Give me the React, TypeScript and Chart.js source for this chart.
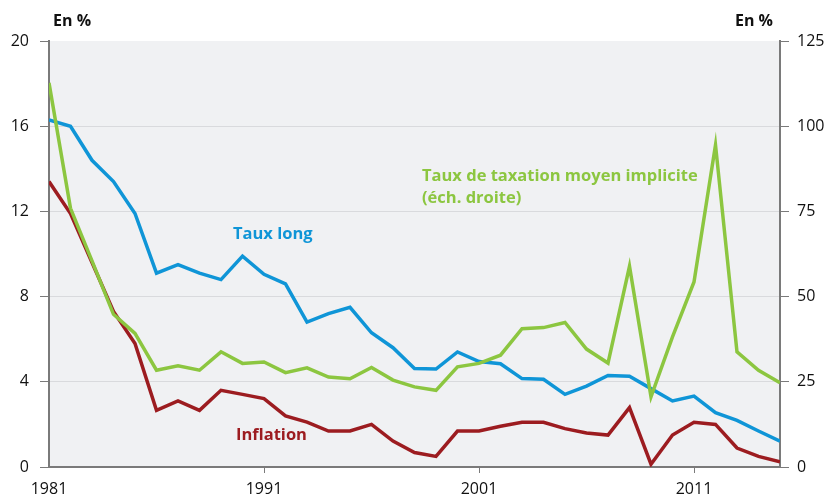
import React, { useEffect, useRef } from "react";
import { Chart, registerables } from "chart.js";

Chart.register(...registerables);

const years = [
  1981, 1982, 1983, 1984, 1985, 1986, 1987, 1988, 1989, 1990,
  1991, 1992, 1993, 1994, 1995, 1996, 1997, 1998, 1999, 2000,
  2001, 2002, 2003, 2004, 2005, 2006, 2007, 2008, 2009, 2010,
  2011, 2012, 2013, 2014, 2015,
];

const tauxLong = [
  16.3, 16.0, 14.4, 13.4, 11.9, 9.1, 9.5, 9.1, 8.8, 9.9,
  9.05, 8.6, 6.8, 7.2, 7.5, 6.3, 5.6, 4.62, 4.6, 5.4,
  4.95, 4.85, 4.15, 4.12, 3.41, 3.8, 4.3, 4.26, 3.68, 3.1,
  3.33, 2.55, 2.19, 1.69, 1.21,
];

const inflation = [
  13.4, 11.9, 9.6, 7.3, 5.8, 2.66, 3.1, 2.66, 3.6, 3.41,
  3.21, 2.4, 2.11, 1.69, 1.69, 2.0, 1.22, 0.68, 0.5, 1.69,
  1.69, 1.91, 2.1, 2.1, 1.8, 1.6, 1.5, 2.79, 0.13, 1.5,
  2.1, 2.0, 0.89, 0.5, 0.24,
];

const tauxTaxation = [
  112.7, 75.9, 60.5, 44.8, 39.2, 28.4, 29.7, 28.4, 33.8, 30.4,
  30.8, 27.7, 29.1, 26.4, 25.9, 29.2, 25.5, 23.5, 22.5, 29.4,
  30.4, 32.8, 40.6, 40.9, 42.4, 34.6, 30.5, 58.9, 20.6, 38.2,
  54.3, 94.5, 33.8, 28.4, 24.7,
];

const xTickYears = [1981, 1991, 2001, 2011];
const leftTicks = [0, 4, 8, 12, 16, 20];
const rightTicks = [0, 25, 50, 75, 100, 125];

const labelTauxLong = "Taux long";
const labelInflation = "Inflation";
const labelTaxation1 = "Taux de taxation moyen implicite";
const labelTaxation2 = "(éch. droite)";
const unitLabel = "En %";

const BLUE = "#0f95d7";
const RED = "#9c1c20";
const GREEN = "#8cc640";
const AXIS = "#7a7a7a";
const GRID = "#d9dadd";
const BG = "#f0f1f3";
const FONT = "'Open Sans', 'DejaVu Sans', sans-serif";

const toPoints = (vals: number[]) => vals.map((v, i) => ({ x: years[i], y: v }));

export default function App() {
  const ref = useRef<HTMLCanvasElement | null>(null);

  useEffect(() => {
    document.body.style.margin = "0";
    const canvas = ref.current;
    if (!canvas) return;

    const bgPlugin = {
      id: "bgPlugin",
      beforeDraw(chart: any) {
        const { ctx, chartArea } = chart;
        ctx.save();
        ctx.fillStyle = BG;
        ctx.fillRect(chartArea.left, chartArea.top, chartArea.right - chartArea.left, chartArea.bottom - chartArea.top);
        ctx.restore();
      },
      afterDraw(chart: any) {
        const { ctx, chartArea } = chart;
        ctx.save();
        ctx.textBaseline = "middle";
        ctx.font = `bold 16px ${FONT}`;
        ctx.fillStyle = "#111";
        ctx.textAlign = "left";
        ctx.fillText(unitLabel, chartArea.left + 4, 21);
        ctx.textAlign = "right";
        ctx.fillText(unitLabel, chartArea.right - 7, 21);

        ctx.font = `bold 16.5px ${FONT}`;
        ctx.textAlign = "left";
        ctx.fillStyle = BLUE;
        ctx.fillText(labelTauxLong, 233, 234);
        ctx.fillStyle = RED;
        ctx.fillText(labelInflation, 236, 435);
        ctx.fillStyle = GREEN;
        ctx.fillText(labelTaxation1, 422, 176);
        ctx.fillText(labelTaxation2, 422, 198);
        ctx.restore();
      },
    };

    const chart = new Chart(canvas, {
      type: "line",
      data: {
        datasets: [
          {
            label: labelTaxation1,
            data: toPoints(tauxTaxation),
            yAxisID: "y1",
            borderColor: GREEN,
            borderWidth: 3.5,
            pointRadius: 0,
            tension: 0,
            order: 0,
          },
          {
            label: labelTauxLong,
            data: toPoints(tauxLong),
            yAxisID: "y",
            borderColor: BLUE,
            borderWidth: 3.5,
            pointRadius: 0,
            tension: 0,
            order: 1,
          },
          {
            label: labelInflation,
            data: toPoints(inflation),
            yAxisID: "y",
            borderColor: RED,
            borderWidth: 3.5,
            pointRadius: 0,
            tension: 0,
            order: 2,
          },
        ],
      },
      options: {
        responsive: false,
        animation: false,
        devicePixelRatio: 1,
        layout: { padding: { top: 41, left: 0, right: 0, bottom: 0 } },
        plugins: {
          legend: { display: false },
          tooltip: { enabled: false },
        },
        scales: {
          x: {
            type: "linear",
            min: years[0],
            max: years[years.length - 1],
            afterBuildTicks: (scale: any) => {
              scale.ticks = xTickYears.map((v) => ({ value: v }));
            },
            afterFit: (scale: any) => {
              scale.height = 29;
            },
            border: { display: true, color: AXIS, width: 2 },
            grid: {
              drawOnChartArea: false,
              drawTicks: true,
              tickLength: 6,
              color: (c: any) => (c.index === 0 ? "rgba(0,0,0,0)" : AXIS),
              lineWidth: 1,
            },
            ticks: {
              color: "#111",
              font: { family: FONT, size: 16 },
              padding: 7,
              maxRotation: 0,
              autoSkip: false,
              callback: (v: any) => String(v),
            },
          },
          y: {
            position: "left",
            min: 0,
            max: 20,
            afterBuildTicks: (scale: any) => {
              scale.ticks = leftTicks.map((v) => ({ value: v }));
            },
            afterFit: (scale: any) => {
              scale.width = 49;
            },
            border: { display: true, color: AXIS, width: 2 },
            grid: {
              drawOnChartArea: true,
              drawTicks: true,
              tickLength: 9,
              color: (c: any) =>
                c.tick && (c.tick.value === 0 || c.tick.value === 20) ? "rgba(0,0,0,0)" : GRID,
              tickColor: AXIS,
              lineWidth: 1,
            },
            ticks: {
              color: "#111",
              font: { family: FONT, size: 16 },
              padding: 11,
              callback: (v: any) => String(v),
            },
          },
          y1: {
            position: "right",
            min: 0,
            max: 125,
            afterBuildTicks: (scale: any) => {
              scale.ticks = rightTicks.map((v) => ({ value: v }));
            },
            afterFit: (scale: any) => {
              scale.width = 49;
            },
            border: { display: true, color: AXIS, width: 2 },
            grid: {
              drawOnChartArea: false,
              drawTicks: true,
              tickLength: 9,
              color: AXIS,
              lineWidth: 1,
            },
            ticks: {
              color: "#111",
              font: { family: FONT, size: 16 },
              padding: 8,
              callback: (v: any) => String(v),
            },
          },
        },
      },
      plugins: [bgPlugin],
    } as any);

    return () => chart.destroy();
  }, []);

  return (
    <div style={{ width: 829, height: 496 }}>
      <canvas ref={ref} width={829} height={496} style={{ width: 829, height: 496, display: "block" }} />
    </div>
  );
}
